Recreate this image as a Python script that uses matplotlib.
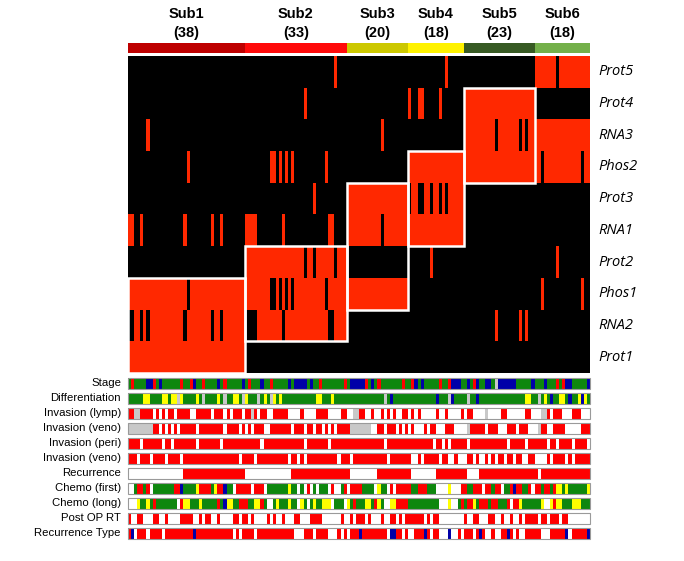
import numpy as np
import matplotlib
matplotlib.use("Agg")
import matplotlib.pyplot as plt
from matplotlib.colors import ListedColormap, to_rgb
from matplotlib.patches import Rectangle

W, H = 684, 561

# subtypes (columns are ordered samples, grouped by subtype)
subtypes = ["Sub1", "Sub2", "Sub3", "Sub4", "Sub5", "Sub6"]
subtype_sizes = [38, 33, 20, 18, 23, 18]
subtype_colors = ["#BE0000", "#FF0A0A", "#CCC800", "#FFF200", "#375A23", "#74B04A"]

# heatmap rows, top to bottom: (omics layer, cluster)
row_labels = ["Prot5", "Prot4", "RNA3", "Phos2", "Prot3", "RNA1", "Prot2", "Phos1", "RNA2", "Prot1"]

# cluster of each sample per omics layer, one run-length segment per subtype
prot_cluster = ["1*38",
                "2*19 4 2*2 3 2*6 5 2*3",
                "3*20",
                "4 3 3 4*2 3*2 2 3*2 4 3 5 3*5",
                "4*23",
                "5*7 2 5*10"]
rna_cluster = ["1*2 2*2 1 2 3 2*11 1 2*8 1 2*2 1 2*7",
               "1*4 2*8 1 2*14 1*2 2*4",
               "1*11 3 1*8",
               "1*18",
               "3*10 2 3*7 2 3 2 3*2",
               "3*18"]
phos_cluster = ["1*19 2 1*18",
                "1*8 2*2 1 2 1 2 1 2 1*10 2 1*6",
                "1*20",
                "2*18",
                "2*23",
                "2*2 1 2*12 1 2*2"]

# rows of the subtype-specific white boxes (first row, last row + 1)
box_rows = [(7, 10), (6, 9), (4, 8), (3, 6), (1, 4), None]

# clinical annotation tracks, three segments of 50 samples each
# G green, R red, B blue, Y yellow, g grey, W white
track_names = ["Stage", "Differentiation", "Invasion (lymp)", "Invasion (veno)",
               "Invasion (peri)", "Invasion (veno)", "Recurrence", "Chemo (first)",
               "Chemo (long)", "Post OP RT", "Recurrence Type"]
stage = ["G R G*4 B*2 R G B G*6 R G*2 R B G*2 R G*4 B G R G*5 B G R G*3 B G*2 R G*3",
         "G*2 B G B*4 G B G*2 R G*7 R G B*5 R G B G R G*7 R G*2 R B G B G*4",
         "G R G*2 R B*3 G*2 B G R B G*2 B*2 G g B*6 G*5 B G*3 B G*3 R G R B*2 G*5 B"]
differentiation = ["G*5 Y*2 G*4 Y*2 G Y*2 g Y G*4 Y G g G*4 Y G g G*2 Y*2 G g Y G*3 g G Y G g Y G Y",
                   "G*11 Y*2 G*3 Y G*16 g G B G*14",
                   "B G*3 g B G*4 g G*2 B G*15 Y*2 G*2 g G Y G B G*2 Y*2 G B G*2 Y B Y G"]
invasion_lymp = ["R*2 g*2 R*4 W R W R W R*2 W R*4 W*2 R*5 W R*3 W R W R*3 W R*2 g R W R*2 W*2 R*3",
                 "R*2 W*4 R W*4 R*4 W*4 R*2 W*2 g*2 R*2 W*2 R W*2 R W R W R W*2 R*2 W R W R W*5",
                 "R W*2 R W*4 R W R*2 W*4 g W*4 R*2 W*6 R*2 W*3 g*2 R W R*3 W*3 R*3 W*3"]
invasion_veno = ["g*8 R*2 W R W R W R W R*5 W R*8 W R*4 W R W R W R*3 W*2 R*4",
                 "R*3 W R*3 W R*2 W R*2 W R W R W R*4 g*7 W*2 R*2 W R*3 W R W R W R W*3 R W R*2",
                 "W*3 R*3 W*4 g R*5 W R*3 W*3 R*3 W R*3 W*3 g R*2 W*2 R*4 W*5 R*3"]
invasion_peri = ["R*4 W R*6 W R*2 W R*7 W R*7 W R*12 W R*6",
                 "R*7 W R*7 W R*17 W R*15 W",
                 "R*2 W R W R*5 W R*12 W R*5 W R*6 W R*2 W R*4 W R*4 W"]
invasion_veno2 = ["R*3 W R*3 W R*4 W R*4 W R*18 W R*4 W R*8",
                  "R*2 W R*2 W R W R*10 W R*3 W R*11 W R*7 W*2 R W R*4",
                  "R W R*2 W*2 R W*3 R*2 W R W*2 R W R W R*2 W R*2 W R*2 W*2 R*2 W*4 R W R*4 W R W R*5"]
recurrence = ["W*18 R*20 W*12",
              "W*3 R*19 W*9 R*11 W*8",
              "R*10 W*4 R*19 W R*16"]
chemo_first = ["W*2 G R*2 G R W G*7 R*2 B G*4 Y R*4 G Y R*2 B G*2 W R*5 W R*3 W G*5",
               "G*2 Y G*2 W G W R W G W G*3 W R W*2 G R W R*4 G*4 W Y G*2 W R W R*5 G*2 R*3 G*3",
               "W*4 Y W*3 R*2 G*2 R*3 W R*2 G R*2 W G*2 R B R*2 G*2 R W R*2 G R*2 G R Y*2 G Y G*6 Y"]
chemo_long = ["W*3 Y G*2 Y G R G*7 W R Y*2 G*3 Y G*5 R G B Y*2 G*2 R*3 G*2 Y*2 R G W*2 G Y G",
              "G*2 Y G*2 W Y G W G Y G*2 Y*3 W G*3 W Y G R G*3 Y*2 G R Y G W*2 Y*2 R*4 G*9",
              "G W*3 Y W*2 G R G R*2 Y G R*3 G R*2 G*3 R W R*2 Y G*6 Y W*2 Y R Y*2 G*3 Y*3 G*3"]
post_op_rt = ["R W*2 R*2 W*3 R*2 W*2 R W*4 R*4 W*2 R W R*2 W*2 R W*4 R*2 W R*2 W R W*4 R W R W*2",
              "R W*3 R*2 W*3 R*4 W*6 R W*2 R W R*3 W R W*3 R W*2 R*2 W R W R*6 W R W R",
              "R W*8 R W*2 R*2 W*3 R*2 W*2 R W*2 R W*2 R W R*4 W R*2 W R*3 W R*2 W*7"]
recurrence_type = ["R B W R*3 W R*4 W R*9 B R*12 W R W R*4 W R*8",
                   "R*4 W*3 R*3 W R*4 W*3 R W R W R*3 B R*8 W B*2 R*2 W R W*2 R*3 B R W R",
                   "R W*3 B W*2 R W R*3 W R B R W*2 R W*2 R*2 B R W R W*2 R*5 W*3 R*5 B W R*5 B"]
tracks = [stage, differentiation, invasion_lymp, invasion_veno, invasion_peri,
          invasion_veno2, recurrence, chemo_first, chemo_long, post_op_rt, recurrence_type]

track_colors = {"G": "#0E870E", "R": "#FF0000", "B": "#0000A8", "Y": "#FFFF00",
                "g": "#C8C8C8", "W": "#FFFFFF"}
cell_red = "#FF2800"


def expand(tokens, n):
    out = []
    for tok in tokens.split():
        v, _, k = tok.partition("*")
        out += [v] * int(k or 1)
    return (out + [out[-1]] * n)[:n]


def add_ax(x0, y0, x1, y1):
    ax = fig.add_axes([x0 / W, 1 - y1 / H, (x1 - x0) / W, (y1 - y0) / H])
    ax.set_axis_off()
    return ax


n = sum(subtype_sizes)
bounds = np.concatenate([[0], np.cumsum(subtype_sizes)])
clusters = {
    "Prot": np.array([int(c) for s, k in zip(prot_cluster, subtype_sizes) for c in expand(s, k)]),
    "RNA": np.array([int(c) for s, k in zip(rna_cluster, subtype_sizes) for c in expand(s, k)]),
    "Phos": np.array([int(c) for s, k in zip(phos_cluster, subtype_sizes) for c in expand(s, k)]),
}
matrix = np.array([clusters[lab.rstrip("0123456789")] == int(lab[-1]) for lab in row_labels], dtype=int)

fig = plt.figure(figsize=(W / 100, H / 100), dpi=100)
fig.patch.set_facecolor("white")

X0, X1 = 128, 590

# subtype colour bar and headers
ax_bar = add_ax(X0, 43, X1, 53)
sub_idx = np.repeat(np.arange(len(subtypes)), subtype_sizes)
ax_bar.imshow(sub_idx[None, :], cmap=ListedColormap(subtype_colors), aspect="auto",
              interpolation="nearest", extent=(0, n, 1, 0))
ax_bar.set_xlim(0, n)
for name, size, a, b in zip(subtypes, subtype_sizes, bounds[:-1], bounds[1:]):
    xc = X0 + (a + b) / 2 * (X1 - X0) / n
    fig.text(xc / W, 1 - 14.5 / H, name, ha="center", va="center", fontsize=10.5,
             fontweight="bold", family="Liberation Sans")
    fig.text(xc / W, 1 - 32.5 / H, f"({size})", ha="center", va="center", fontsize=10.5,
             fontweight="bold", family="Liberation Sans")

# main heatmap
ax_hm = add_ax(X0, 56, X1, 373)
ax_hm.imshow(matrix, cmap=ListedColormap(["#000000", cell_red]), aspect="auto",
             interpolation="nearest", extent=(0, n, len(row_labels), 0))
for (a, b), rows in zip(zip(bounds[:-1], bounds[1:]), box_rows):
    if rows is None:
        continue
    ax_hm.add_patch(Rectangle((a, rows[0]), b - a, rows[1] - rows[0], fill=False,
                              edgecolor="white", linewidth=1.8, clip_on=False))
ax_hm.set_xlim(0, n)
ax_hm.set_ylim(len(row_labels), 0)
for i, lab in enumerate(row_labels):
    ax_hm.text(n + 2.6, i + 0.5, lab, ha="left", va="center", fontsize=10.5,
               style="italic", family="Open Sans", clip_on=False)

# annotation tracks
for i, (name, segs) in enumerate(zip(track_names, tracks)):
    top = 377.7 + 15 * i
    ax = add_ax(X0, top, X1, top + 11)
    codes = [c for s in segs for c in expand(s, 50)]
    rgb = np.array([[to_rgb(track_colors[c]) for c in codes]])
    ax.imshow(rgb, aspect="auto", interpolation="nearest", extent=(0, n, 1, 0))
    ax.add_patch(Rectangle((0, 0), n, 1, fill=False, edgecolor="#9A9A9A",
                           linewidth=0.8, clip_on=False))
    ax.set_xlim(0, n)
    ax.set_ylim(1, 0)
    fig.text(121 / W, 1 - (top + 5.5) / H, name, ha="right", va="center",
             fontsize=8.2, family="Liberation Sans")

fig.savefig("out.png", dpi=100, facecolor="white")
